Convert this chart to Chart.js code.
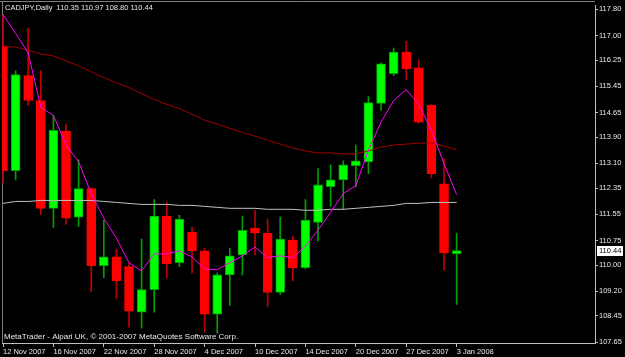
<!DOCTYPE html>
<html><head><meta charset="utf-8">
<script src="https://cdn.jsdelivr.net/npm/chart.js@4.4.1/dist/chart.umd.min.js"></script>
<style>html,body{margin:0;padding:0;background:#000;}canvas{display:block;}</style>
</head><body>
<canvas id="c" width="625" height="357"></canvas>
<script>
const titleText = 'CADJPY,Daily  110.35 110.97 108.80 110.44';
const footerText = 'MetaTrader - Alpari UK, \u00A9 2001-2007 MetaQuotes Software Corp.';
const dates = ['12 Nov 2007','13 Nov 2007','14 Nov 2007','15 Nov 2007','16 Nov 2007','19 Nov 2007','20 Nov 2007','21 Nov 2007','22 Nov 2007','23 Nov 2007','26 Nov 2007','27 Nov 2007','28 Nov 2007','29 Nov 2007','30 Nov 2007','3 Dec 2007','4 Dec 2007','5 Dec 2007','6 Dec 2007','7 Dec 2007','10 Dec 2007','11 Dec 2007','12 Dec 2007','13 Dec 2007','14 Dec 2007','17 Dec 2007','18 Dec 2007','19 Dec 2007','20 Dec 2007','21 Dec 2007','24 Dec 2007','26 Dec 2007','27 Dec 2007','28 Dec 2007','31 Dec 2007','2 Jan 2008','3 Jan 2008'];
const openP  = [116.68,112.88,115.78,115.02,111.73,114.08,111.46,112.33,109.98,110.25,109.95,108.56,109.25,111.49,110.07,111.00,110.43,108.50,109.70,110.31,111.12,110.97,109.16,110.76,109.92,111.30,112.39,112.60,113.03,113.15,114.93,115.84,116.50,116.02,114.87,112.48,110.35];
const highP  = [117.62,115.93,117.23,115.93,114.57,114.30,113.21,112.36,111.36,110.49,110.07,110.79,112.00,111.91,111.52,111.15,110.52,109.76,110.52,111.49,111.67,111.40,111.46,110.88,112.00,112.94,113.06,113.18,113.66,115.14,116.17,116.62,116.83,116.26,114.90,113.24,110.97];
const lowP   = [112.51,112.60,114.87,111.55,111.15,111.24,111.18,109.19,109.61,108.98,108.10,108.07,108.56,109.61,109.95,109.76,107.95,107.92,108.77,109.70,110.31,108.74,109.10,109.52,109.88,110.73,111.79,111.70,112.39,112.79,114.72,115.78,115.66,114.33,112.66,109.85,108.80];
const closeP = [112.88,115.81,115.02,111.73,114.11,111.43,112.33,109.98,110.25,109.52,108.59,109.25,111.49,110.04,111.40,110.43,108.50,109.70,110.28,111.06,110.97,109.16,110.79,109.92,111.37,112.45,112.60,113.06,113.18,114.96,116.14,116.50,115.99,114.36,112.79,110.37,110.44];
const maFast = [117.65,117.07,116.47,114.81,114.57,113.66,113.15,112.18,111.43,110.82,110.07,109.82,110.34,110.34,110.43,110.25,109.88,109.85,110.07,110.28,110.55,110.22,110.28,110.22,110.58,111.06,111.61,112.18,112.42,113.51,114.36,115.02,115.35,114.90,114.11,113.09,112.15];
const maMid  = [116.68,116.65,116.56,116.44,116.38,116.23,116.08,115.90,115.72,115.56,115.41,115.23,115.05,114.90,114.78,114.60,114.42,114.30,114.17,114.05,113.93,113.81,113.69,113.57,113.48,113.42,113.42,113.39,113.39,113.48,113.60,113.66,113.69,113.72,113.72,113.63,113.51];
const maSlow = [111.88,111.94,111.94,111.97,111.97,111.97,111.97,111.97,111.94,111.91,111.88,111.85,111.85,111.85,111.82,111.82,111.79,111.76,111.73,111.73,111.73,111.70,111.70,111.70,111.67,111.67,111.70,111.70,111.73,111.76,111.79,111.82,111.88,111.88,111.91,111.91,111.91];
const xTickIndex = [0,4,8,12,16,20,24,28,32,36];
const priceTicks = [117.80,117.00,116.25,115.45,114.65,113.90,113.10,112.35,111.55,110.75,110.00,109.20,108.45,107.65];
const lastPrice = 110.44;

const isBull = openP.map((o,i)=>closeP[i]>=o);
const bodyColors = isBull.map(b=>b?'#00ff00':'#ff0000');
const bodyBorders = isBull.map(b=>b?'#00a000':'#ff0000');
const wickColors = isBull.map(b=>b?'#00a000':'#c00000');
const bodyData = dates.map((d,i)=>({x:i, y:[openP[i], closeP[i]]}));
const wickData = dates.map((d,i)=>({x:i, y:[lowP[i], highP[i]]}));
const line = arr => arr.map((v,i)=>({x:i, y:v}));

const FONT = 'Liberation Sans, Arial, sans-serif';

const framePlugin = {
  id:'frame',
  beforeDraw(chart){
    const ctx = chart.ctx;
    ctx.save(); ctx.fillStyle='#000'; ctx.fillRect(0,0,chart.width,chart.height); ctx.restore();
  },
  beforeDatasetsDraw(chart){
    const ctx = chart.ctx, a = chart.chartArea;
    ctx.save();
    ctx.strokeStyle='#808080'; ctx.lineWidth=1;
    ctx.beginPath();
    ctx.moveTo(0,1.5); ctx.lineTo(a.right,1.5);
    ctx.moveTo(2.5,1); ctx.lineTo(2.5,a.bottom);
    ctx.stroke();
    ctx.restore();
  },
  afterDraw(chart){
    const ctx = chart.ctx;
    ctx.save();
    ctx.fillStyle = '#e8e8e8';
    ctx.textBaseline = 'middle';
    ctx.textAlign = 'left';
    ctx.font = '7.5px '+FONT;
    ctx.fillText(titleText, 5, 8);
    ctx.font = '8px '+FONT;
    ctx.fillText(footerText, 4, 337);
    const y = Math.round(chart.scales.y.getPixelForValue(lastPrice));
    ctx.fillStyle = '#ffffff';
    ctx.fillRect(597, y-5, 26, 10);
    ctx.fillStyle = '#000000';
    ctx.font = '7.5px '+FONT;
    ctx.fillText(lastPrice.toFixed(2), 599, y);
    ctx.restore();
  }
};

new Chart(document.getElementById('c'), {
  type:'bar',
  data:{ datasets:[
    {type:'line', data: line(maFast), borderColor:'#ff00ff', borderWidth:1, pointRadius:0, tension:0, order:0},
    {type:'line', data: line(maMid), borderColor:'#a00000', borderWidth:1, pointRadius:0, tension:0, order:1},
    {type:'line', data: line(maSlow), borderColor:'#c0c0c0', borderWidth:1, pointRadius:0, tension:0, order:2},
    {type:'bar', data: bodyData, backgroundColor: bodyColors, borderColor: bodyBorders, borderWidth:1, borderSkipped:false, barThickness:9, grouped:false, minBarLength:1, order:3},
    {type:'bar', data: wickData, backgroundColor: wickColors, borderWidth:0, barThickness:1, grouped:false, order:4}
  ]},
  options:{
    responsive:false, animation:false, events:[],
    layout:{padding:{left:2, top:2, right:0, bottom:0}},
    plugins:{legend:{display:false}, tooltip:{enabled:false}},
    scales:{
      x:{
        type:'linear', min:-0.08, max:46.98, offset:false,
        afterBuildTicks: s => { s.ticks = xTickIndex.map(v=>({value:v})); },
        afterFit: s => { s.height = 14; },
        grid:{display:true, offset:false, drawOnChartArea:false, drawTicks:true, tickLength:4, color:'#c0c0c0'},
        border:{display:true, color:'#c0c0c0'},
        ticks:{autoSkip:false, maxRotation:0, align:'start', padding:0, color:'#e8e8e8', font:{family:FONT, size:7.5},
          callback:(v)=> dates[v] }
      },
      y:{
        type:'linear', position:'right', min:107.62, max:117.92,
        afterBuildTicks: s => { s.ticks = priceTicks.map(v=>({value:v})); },
        afterFit: s => { s.width = 30; },
        grid:{display:true, drawOnChartArea:false, drawTicks:true, tickLength:3, color:'#c0c0c0'},
        border:{display:true, color:'#c0c0c0'},
        ticks:{padding:1, color:'#e8e8e8', font:{family:FONT, size:7.5}, callback:(v)=> Number(v).toFixed(2)}
      }
    }
  },
  plugins:[framePlugin]
});
</script>
</body></html>
